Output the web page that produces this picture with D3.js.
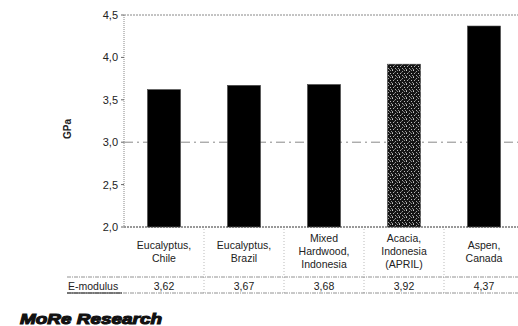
<!DOCTYPE html>
<html>
<head>
<meta charset="utf-8">
<script src="https://cdn.jsdelivr.net/npm/d3@7/dist/d3.min.js"></script>
<style>
  html, body { margin: 0; padding: 0; background: #fff; }
  svg { display: block; font-family: "Liberation Sans", Arial, sans-serif; }
</style>
</head>
<body>
<svg id="chart" width="518" height="326"></svg>
<script>
// E-modulus of pulp fibres by wood source
const categories = ["Eucalyptus, Chile", "Eucalyptus, Brazil", "Mixed Hardwood, Indonesia", "Acacia, Indonesia (APRIL)", "Aspen, Canada"];
const labelLines = [
  ["Eucalyptus,", "Chile"],
  ["Eucalyptus,", "Brazil"],
  ["Mixed", "Hardwood,", "Indonesia"],
  ["Acacia,", "Indonesia", "(APRIL)"],
  ["Aspen,", "Canada"]
];
const eModulus = [3.62, 3.67, 3.68, 3.92, 4.37];
const highlighted = ["Acacia, Indonesia (APRIL)"];
const yTicks = [2.0, 2.5, 3.0, 3.5, 4.0, 4.5];
const gridValues = [3.0];
const rowLabel = "E-modulus";
const yTitle = "GPa";
const footer = "MoRe Research";

(function draw() {
const svg = d3.select("#chart");
const fmt = v => d3.format(".2f")(v).replace(".", ",");
const fmtTick = v => d3.format(".1f")(v).replace(".", ",");

const plotLeft = 124, plotRight = 524, plotTop = 15, plotBottom = 227;

const x = d3.scaleBand().domain(categories).range([plotLeft, plotRight])
  .paddingInner(0.5875).paddingOuter(0.29375);
const y = d3.scaleLinear().domain([2, 4.5]).range([plotBottom, plotTop]);

// stipple fill for the highlighted bar: scattered light dots on near-black
const defs = svg.append("defs");
const pat = defs.append("pattern").attr("id", "stipple")
  .attr("patternUnits", "userSpaceOnUse").attr("width", 7).attr("height", 7);
pat.append("rect").attr("width", 7).attr("height", 7).attr("fill", "#141414");
const dots = [[0, 0, "#c8c8c8"], [3, 1, "#9a9a9a"], [5, 0, "#8a8a8a"], [1, 3, "#b0b0b0"],
              [5, 3, "#c0c0c0"], [3, 5, "#a8a8a8"], [6, 5, "#909090"], [0, 6, "#9c9c9c"],
              [2, 2, "#6a6a6a"], [4, 6, "#707070"]];
pat.selectAll("rect.dot").data(dots).join("rect").attr("class", "dot")
  .attr("x", d => d[0]).attr("y", d => d[1]).attr("width", 1).attr("height", 1)
  .attr("fill", d => d[2]);

// plot frame: dotted top edge and left axis
svg.append("line").attr("x1", plotLeft).attr("x2", 518).attr("y1", y(4.5)).attr("y2", y(4.5))
  .attr("stroke", "#888").attr("stroke-width", 1).attr("stroke-dasharray", "2,1");
svg.append("line").attr("x1", plotLeft).attr("x2", plotLeft).attr("y1", plotTop).attr("y2", plotBottom)
  .attr("stroke", "#888").attr("stroke-width", 1).attr("stroke-dasharray", "1,1");

// gridline
svg.selectAll("line.grid").data(gridValues).join("line").attr("class", "grid")
  .attr("x1", plotLeft).attr("x2", 518).attr("y1", d => y(d)).attr("y2", d => y(d))
  .attr("stroke", "#888").attr("stroke-width", 1).attr("stroke-dasharray", "9,4,2,4");

// y axis ticks and labels
const yAxis = svg.append("g");
yAxis.selectAll("line").data(yTicks).join("line")
  .attr("x1", plotLeft - 3).attr("x2", plotLeft).attr("y1", d => y(d)).attr("y2", d => y(d))
  .attr("stroke", "#666");
yAxis.selectAll("text").data(yTicks).join("text")
  .attr("x", 118).attr("y", d => y(d) + 4)
  .attr("text-anchor", "end").attr("font-size", 11).attr("fill", "#222")
  .text(fmtTick);

svg.append("text")
  .attr("transform", `translate(71,${(plotTop + plotBottom) / 2 + 8}) rotate(-90)`)
  .attr("text-anchor", "middle").attr("font-size", 10).attr("font-weight", "bold").attr("fill", "#222")
  .text(yTitle);

// bars
svg.selectAll("rect.bar").data(categories).join("rect").attr("class", "bar")
  .attr("x", d => x(d)).attr("width", x.bandwidth())
  .attr("y", (d, i) => y(eModulus[i])).attr("height", (d, i) => plotBottom - y(eModulus[i]))
  .attr("fill", d => highlighted.includes(d) ? "url(#stipple)" : "#000")
  .attr("stroke", "#444").attr("stroke-width", 0.6);

// category axis line
svg.append("line").attr("x1", plotLeft).attr("x2", 518).attr("y1", plotBottom).attr("y2", plotBottom)
  .attr("stroke", "#333").attr("stroke-width", 1).attr("stroke-dasharray", "2,1");

// category labels
const lineH = 13;
const labelsG = svg.append("g");
categories.forEach((c, i) => {
  const lines = labelLines[i];
  const cx = x(c) + x.bandwidth() / 2;
  const y0 = 255 - (lines.length - 1) * lineH / 2;
  const t = labelsG.append("text").attr("text-anchor", "middle")
    .attr("font-size", 10.5).attr("fill", "#222");
  lines.forEach((ln, j) => {
    t.append("tspan").attr("x", cx).attr("y", y0 + j * lineH).text(ln);
  });
});

// data table
const step = x.step();
const bounds = categories.slice(1).map(c => x(c) - (step - x.bandwidth()) / 2);
svg.selectAll("line.sep").data(bounds).join("line").attr("class", "sep")
  .attr("x1", d => d).attr("x2", d => d).attr("y1", plotBottom + 2).attr("y2", 293)
  .attr("stroke", "#aaa").attr("stroke-width", 0.8).attr("stroke-dasharray", "1,2");

svg.append("line").attr("x1", 67).attr("x2", 518).attr("y1", 277).attr("y2", 277)
  .attr("stroke", "#777").attr("stroke-width", 0.8).attr("stroke-dasharray", "4,1,1,1");
svg.append("line").attr("x1", 67).attr("x2", 518).attr("y1", 293).attr("y2", 293)
  .attr("stroke", "#777").attr("stroke-width", 0.8).attr("stroke-dasharray", "4,1,1,1");
svg.append("line").attr("x1", 67).attr("x2", 122).attr("y1", 293).attr("y2", 293)
  .attr("stroke", "#222").attr("stroke-width", 1);

svg.append("text").attr("x", 68).attr("y", 290)
  .attr("font-size", 10.5).attr("fill", "#222").text(rowLabel);

svg.selectAll("text.val").data(categories).join("text").attr("class", "val")
  .attr("x", d => x(d) + x.bandwidth() / 2).attr("y", 290)
  .attr("text-anchor", "middle").attr("font-size", 10.5).attr("fill", "#222")
  .text((d, i) => fmt(eModulus[i]));

// footer
svg.append("text").attr("x", 20).attr("y", 324)
  .attr("font-size", 15).attr("font-weight", "bold").attr("font-style", "italic")
  .attr("fill", "#111").attr("stroke", "#111").attr("stroke-width", 1.1)
  .attr("textLength", 142).attr("lengthAdjust", "spacingAndGlyphs")
  .text(footer);
})();
</script>
</body>
</html>
